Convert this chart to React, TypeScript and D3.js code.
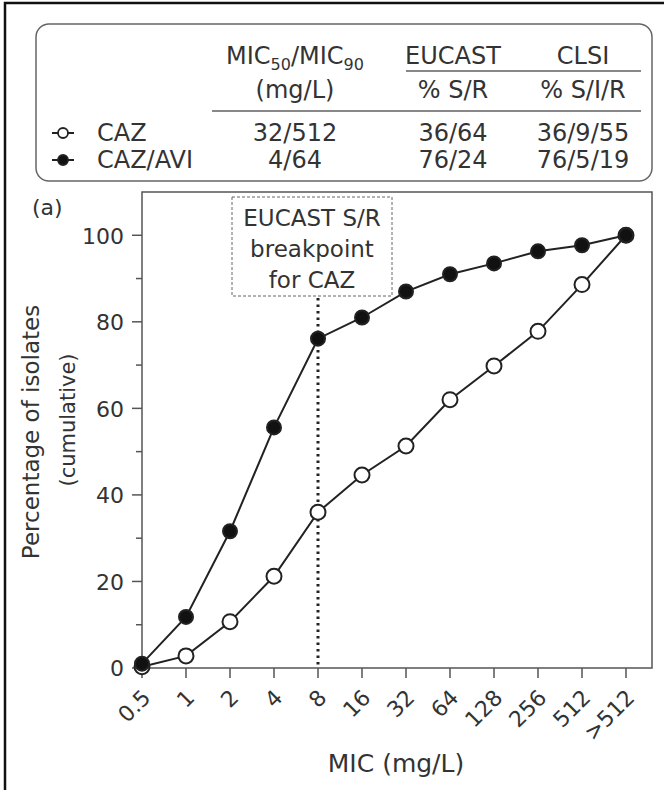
import { useRef, useEffect } from "react";
import * as d3 from "d3";

// MIC categories on the x axis
const micLabels = ["0.5", "1", "2", "4", "8", "16", "32", "64", "128", "256", "512", ">512"];

// cumulative % of isolates
const cazValues = [0.3, 2.8, 10.7, 21.2, 36, 44.6, 51.3, 62, 69.8, 77.8, 88.6, 100];
const cazAviValues = [1, 11.8, 31.6, 55.6, 76.1, 81, 87, 91, 93.5, 96.3, 97.7, 100];

const yMajorTicks = [0, 20, 40, 60, 80, 100];
const yMinorTicks = [10, 30, 50, 70, 90];

// summary table in the legend box
const seriesNames = ["CAZ", "CAZ/AVI"];
const micSummary = ["32/512", "4/64"];
const eucastSR = ["36/64", "76/24"];
const clsiSIR = ["36/9/55", "76/5/19"];
const subHeaders = ["(mg/L)", "% S/R", "% S/I/R"];

const breakpointLabel = ["EUCAST S/R", "breakpoint", "for CAZ"];
const breakpointMic = "8";

const FONT = "DejaVu Sans";
const TXT = "#333";

const App = () => {
  const svgRef = useRef<SVGSVGElement>(null);

  useEffect(() => {
    const svg = d3.select(svgRef.current);
    svg.selectAll("*").remove();

    const W = 664;
    const H = 790;
    const plot = { left: 142, right: 652, top: 192, bottom: 668 };

    const xScale = d3
      .scalePoint<string>()
      .domain(micLabels)
      .range([plot.left, plot.right - 26]);

    const yScale = d3.scaleLinear().domain([0, 110]).range([plot.bottom, plot.top]);

    svg.attr("width", W).attr("height", H).style("font-family", FONT);

    svg.append("rect").attr("width", W).attr("height", H).attr("fill", "#fff");

    // outer frame (only top and left visible)
    svg
      .append("path")
      .attr("d", `M5,${H} L5,3 L${W},3`)
      .attr("fill", "none")
      .attr("stroke", "#111")
      .attr("stroke-width", 2.5);

    // ---- legend / table box ----
    const tbl = svg.append("g");
    tbl
      .append("rect")
      .attr("x", 36)
      .attr("y", 24)
      .attr("width", 616)
      .attr("height", 157)
      .attr("rx", 13)
      .attr("fill", "none")
      .attr("stroke", "#666")
      .attr("stroke-width", 1.5);

    const colX = [295, 453, 583];
    const rowY = [64, 98, 141, 168];

    const h1 = tbl
      .append("text")
      .attr("x", colX[0])
      .attr("y", rowY[0])
      .attr("text-anchor", "middle")
      .attr("font-size", 24)
      .attr("fill", TXT);
    h1.append("tspan").text("MIC");
    h1.append("tspan").attr("font-size", 16).attr("dy", 6).text("50");
    h1.append("tspan").attr("dy", -6).text("/MIC");
    h1.append("tspan").attr("font-size", 16).attr("dy", 6).text("90");

    tbl
      .selectAll(".h1b")
      .data(["EUCAST", "CLSI"])
      .enter()
      .append("text")
      .attr("x", (d, i) => colX[i + 1])
      .attr("y", rowY[0])
      .attr("text-anchor", "middle")
      .attr("font-size", 24)
      .attr("fill", TXT)
      .text((d) => d);

    tbl
      .selectAll(".h2")
      .data(subHeaders)
      .enter()
      .append("text")
      .attr("x", (d, i) => colX[i])
      .attr("y", rowY[1])
      .attr("text-anchor", "middle")
      .attr("font-size", 24)
      .attr("fill", TXT)
      .text((d) => d);

    tbl
      .append("line")
      .attr("x1", 406)
      .attr("x2", 641)
      .attr("y1", 71)
      .attr("y2", 71)
      .attr("stroke", "#888")
      .attr("stroke-width", 2);
    tbl
      .append("line")
      .attr("x1", 212)
      .attr("x2", 641)
      .attr("y1", 111)
      .attr("y2", 111)
      .attr("stroke", "#888")
      .attr("stroke-width", 2);

    seriesNames.forEach((name, i) => {
      const y = rowY[2 + i];
      const cy = y - 8;
      tbl
        .append("line")
        .attr("x1", 52)
        .attr("x2", 74)
        .attr("y1", cy)
        .attr("y2", cy)
        .attr("stroke", "#222")
        .attr("stroke-width", 2);
      tbl
        .append("circle")
        .attr("cx", 63)
        .attr("cy", cy)
        .attr("r", 5)
        .attr("fill", i === 0 ? "#fff" : "#111")
        .attr("stroke", "#222")
        .attr("stroke-width", 1.8);
      tbl
        .append("text")
        .attr("x", 97)
        .attr("y", y)
        .attr("font-size", 24)
        .attr("fill", TXT)
        .text(name);
      [micSummary[i], eucastSR[i], clsiSIR[i]].forEach((v, c) => {
        tbl
          .append("text")
          .attr("x", colX[c])
          .attr("y", y)
          .attr("text-anchor", "middle")
          .attr("font-size", 24)
          .attr("fill", TXT)
          .text(v);
      });
    });

    // ---- plot ----
    svg
      .append("text")
      .attr("x", 32)
      .attr("y", 215)
      .attr("font-size", 22)
      .attr("fill", TXT)
      .text("(a)");

    svg
      .append("rect")
      .attr("x", plot.left)
      .attr("y", plot.top)
      .attr("width", plot.right - plot.left)
      .attr("height", plot.bottom - plot.top)
      .attr("fill", "none")
      .attr("stroke", "#555")
      .attr("stroke-width", 1.5);

    // y ticks
    svg
      .selectAll(".ymaj")
      .data(yMajorTicks)
      .enter()
      .append("line")
      .attr("x1", plot.left - 10)
      .attr("x2", plot.left)
      .attr("y1", (d) => yScale(d))
      .attr("y2", (d) => yScale(d))
      .attr("stroke", "#555")
      .attr("stroke-width", 1.5);
    svg
      .selectAll(".ymin")
      .data(yMinorTicks)
      .enter()
      .append("line")
      .attr("x1", plot.left - 6)
      .attr("x2", plot.left)
      .attr("y1", (d) => yScale(d))
      .attr("y2", (d) => yScale(d))
      .attr("stroke", "#555")
      .attr("stroke-width", 1.5);
    svg
      .selectAll(".ylab")
      .data(yMajorTicks)
      .enter()
      .append("text")
      .attr("x", plot.left - 18)
      .attr("y", (d) => yScale(d))
      .attr("dy", "0.38em")
      .attr("text-anchor", "end")
      .attr("font-size", 22)
      .attr("fill", TXT)
      .text((d) => d);

    // x ticks
    svg
      .selectAll(".xt")
      .data(micLabels)
      .enter()
      .append("line")
      .attr("x1", (d) => xScale(d)!)
      .attr("x2", (d) => xScale(d)!)
      .attr("y1", plot.bottom)
      .attr("y2", plot.bottom + 10)
      .attr("stroke", "#555")
      .attr("stroke-width", 1.5);
    svg
      .selectAll(".xlab")
      .data(micLabels)
      .enter()
      .append("text")
      .attr("transform", (d) => `translate(${xScale(d)! + 10},${plot.bottom + 31}) rotate(-45)`)
      .attr("text-anchor", "end")
      .attr("font-size", 22)
      .attr("fill", TXT)
      .text((d) => d);

    // axis titles
    svg
      .append("text")
      .attr("x", 396)
      .attr("y", 772)
      .attr("text-anchor", "middle")
      .attr("font-size", 25)
      .attr("fill", TXT)
      .text("MIC (mg/L)");
    svg
      .append("text")
      .attr("transform", "translate(39,432) rotate(-90)")
      .attr("text-anchor", "middle")
      .attr("font-size", 23)
      .attr("fill", TXT)
      .text("Percentage of isolates");
    svg
      .append("text")
      .attr("transform", "translate(75,420) rotate(-90)")
      .attr("text-anchor", "middle")
      .attr("font-size", 21)
      .attr("fill", TXT)
      .text("(cumulative)");

    // breakpoint annotation
    const bx = xScale(breakpointMic)!;
    svg
      .append("rect")
      .attr("x", 232)
      .attr("y", 197)
      .attr("width", 160)
      .attr("height", 99)
      .attr("fill", "#fff")
      .attr("stroke", "#666")
      .attr("stroke-width", 1)
      .attr("stroke-dasharray", "3,2");
    breakpointLabel.forEach((t, i) => {
      svg
        .append("text")
        .attr("x", 312)
        .attr("y", 226 + i * 31)
        .attr("text-anchor", "middle")
        .attr("font-size", 23)
        .attr("fill", TXT)
        .text(t);
    });
    svg
      .append("line")
      .attr("x1", bx)
      .attr("x2", bx)
      .attr("y1", 298)
      .attr("y2", plot.bottom)
      .attr("stroke", "#222")
      .attr("stroke-width", 3)
      .attr("stroke-dasharray", "2.5,4");

    // lines + markers
    const lineGenerator = d3
      .line<number>()
      .x((d, i) => xScale(micLabels[i])!)
      .y((d) => yScale(d));

    const drawSeries = (values: number[], filled: boolean) => {
      svg
        .append("path")
        .datum(values)
        .attr("fill", "none")
        .attr("stroke", "#222")
        .attr("stroke-width", 2)
        .attr("d", lineGenerator);
      svg
        .append("g")
        .selectAll("circle")
        .data(values)
        .enter()
        .append("circle")
        .attr("cx", (d, i) => xScale(micLabels[i])!)
        .attr("cy", (d) => yScale(d))
        .attr("r", filled ? 7 : 7.5)
        .attr("fill", filled ? "#111" : "#fff")
        .attr("stroke", "#222")
        .attr("stroke-width", 2);
    };

    drawSeries(cazValues, false);
    drawSeries(cazAviValues, true);
  }, []);

  return (
    <div style={{ position: "absolute", left: 0, top: 0 }}>
      <svg ref={svgRef} style={{ display: "block" }}></svg>
    </div>
  );
};

export default App;
